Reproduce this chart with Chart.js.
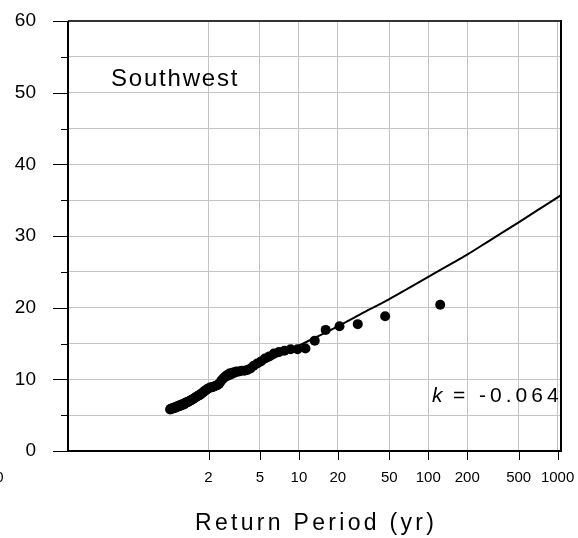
<!DOCTYPE html>
<html>
<head>
<meta charset="utf-8">
<script src="https://cdn.jsdelivr.net/npm/chart.js@4/dist/chart.umd.min.js"></script>
<style>
  html, body { margin: 0; padding: 0; background: #fff; }
</style>
</head>
<body>
<canvas id="chart" width="578" height="538"></canvas>
<script>
// ranked peaks: return period (yr) and magnitude, largest first
const returnPeriods = [123.7, 46.4, 28.5, 20.6, 16.1, 13.25, 11.24, 9.76, 8.63, 7.73,
  7.0, 6.4, 5.89, 5.46, 5.08, 4.76, 4.47, 4.22, 3.99, 3.79,
  3.6, 3.44, 3.28, 3.14, 3.02, 2.9, 2.79, 2.69, 2.59, 2.51,
  2.42, 2.35, 2.28, 2.21, 2.14, 2.08, 2.03, 1.97, 1.92, 1.87,
  1.83, 1.78, 1.74, 1.7, 1.66, 1.63, 1.59, 1.56, 1.53, 1.5,
  1.47, 1.44, 1.41, 1.38, 1.36, 1.33, 1.31, 1.29, 1.27, 1.24,
  1.22, 1.2, 1.19, 1.17, 1.15, 1.13, 1.11, 1.1, 1.08, 1.07,
  1.05, 1.04, 1.02, 1.01];
const peakValues = [20.4, 18.8, 17.7, 17.4, 16.9, 15.4, 14.3, 14.2, 14.2, 14.0,
  13.8, 13.6, 13.2, 12.9, 12.5, 12.2, 11.9, 11.5, 11.3, 11.2,
  11.2, 11.1, 11.1, 11.0, 10.9, 10.8, 10.6, 10.4, 10.1, 9.8,
  9.4, 9.2, 9.1, 9.0, 8.9, 8.9, 8.8, 8.7, 8.5, 8.4,
  8.2, 8.1, 7.9, 7.8, 7.7, 7.6, 7.5, 7.4, 7.3, 7.2,
  7.1, 7.0, 6.9, 6.8, 6.8, 6.7, 6.6, 6.5, 6.5, 6.4,
  6.4, 6.3, 6.3, 6.2, 6.2, 6.1, 6.1, 6.0, 6.0, 6.0,
  5.9, 5.9, 5.9, 5.8];

// fitted distribution curve
const fitPeriods = [1, 2, 5, 10, 20, 30, 50, 70, 100, 150, 200, 300, 500, 700, 1000, 1062];
const fitValues = [6.4, 8.7, 12.0, 14.7, 17.4, 19.1, 21.2, 22.7, 24.3, 26.1, 27.4, 29.4, 31.9, 33.6, 35.4, 35.7];

const xTicks = [2, 5, 10, 20, 50, 100, 200, 500, 1000];
const yMin = 0, yMax = 60, yStep = 5;

const fontFamily = '"Liberation Sans", Arial, sans-serif';

// frame, tick marks and the text on the plot
const decorations = {
  id: "decorations",
  afterDraw(chart) {
    const { ctx, chartArea: a, scales } = chart;
    const x = scales.x, y = scales.y;
    ctx.save();

    ctx.strokeStyle = "#000";
    ctx.lineWidth = 1;
    for (let v = yMin; v <= yMax; v += yStep) {
      const py = Math.round(y.getPixelForValue(v)) + 0.5;
      const len = v % 10 === 0 ? 15 : 7;
      ctx.beginPath();
      ctx.moveTo(a.left - len, py);
      ctx.lineTo(a.left, py);
      ctx.stroke();
    }
    xTicks.forEach((v) => {
      const px = Math.round(x.getPixelForValue(v)) + 0.5;
      ctx.beginPath();
      ctx.moveTo(px, a.bottom);
      ctx.lineTo(px, a.bottom + 9);
      ctx.stroke();
    });

    ctx.lineWidth = 2;
    ctx.strokeStyle = "#333";
    ctx.beginPath();
    ctx.moveTo(a.left, a.top);
    ctx.lineTo(a.right, a.top);
    ctx.stroke();
    ctx.strokeStyle = "#000";
    ctx.beginPath();
    ctx.moveTo(a.left, a.top);
    ctx.lineTo(a.left, a.bottom);
    ctx.lineTo(a.right, a.bottom);
    ctx.lineTo(a.right, a.top - 1);
    ctx.stroke();

    ctx.fillStyle = "#000";
    ctx.textAlign = "left";
    ctx.textBaseline = "alphabetic";

    ctx.font = "24px " + fontFamily;
    ctx.letterSpacing = "1.8px";
    ctx.fillText("Southwest", 111, 86);

    ctx.font = "italic 21px " + fontFamily;
    ctx.letterSpacing = "0px";
    ctx.fillText("k", 432, 402);
    ctx.font = "21px " + fontFamily;
    ctx.letterSpacing = "4px";
    ctx.fillText("= -0.064", 453, 402);

    ctx.font = "23px " + fontFamily;
    ctx.letterSpacing = "3.3px";
    ctx.fillText("Return Period (yr)", 195, 530);

    ctx.font = "15px " + fontFamily;
    ctx.letterSpacing = "0px";
    ctx.textAlign = "right";
    ctx.textBaseline = "middle";
    ctx.fillText("0", 3.5, 478);

    ctx.restore();
  },
};

const peakData = returnPeriods.map((t, i) => ({ x: t, y: peakValues[i] }));
const fitData = fitPeriods.map((t, i) => ({ x: t, y: fitValues[i] }));

const config = {
  type: "scatter",
  data: {
    datasets: [
      {
        label: "Fit",
        data: fitData,
        showLine: true,
        borderColor: "#000",
        borderWidth: 2,
        pointRadius: 0,
        cubicInterpolationMode: "monotone",
        order: 2,
      },
      {
        label: "Observed",
        data: peakData,
        backgroundColor: "#000",
        borderColor: "#000",
        borderWidth: 0,
        pointRadius: 5,
        order: 1,
      },
    ],
  },
  options: {
    responsive: false,
    animation: false,
    events: [],
    layout: { padding: { left: 0, top: 21, right: 17, bottom: 0 } },
    plugins: {
      legend: { display: false },
      tooltip: { enabled: false },
    },
    scales: {
      x: {
        type: "logarithmic",
        min: 0.164,
        max: 1062,
        border: { display: false },
        grid: { color: "#c4c4c4", lineWidth: 1, drawTicks: false },
        afterBuildTicks: (axis) => {
          axis.ticks = xTicks.map((v) => ({ value: v }));
        },
        afterFit: (axis) => {
          axis.height = 87;
          axis.paddingLeft = 0;
          axis.paddingRight = 0;
        },
        ticks: {
          autoSkip: false,
          maxRotation: 0,
          padding: 18,
          color: "#000",
          font: { family: fontFamily, size: 15 },
          callback: (v) => String(v),
        },
      },
      y: {
        min: yMin,
        max: yMax,
        border: { display: false },
        grid: { color: "#c4c4c4", lineWidth: 1, drawTicks: false },
        afterFit: (axis) => {
          axis.width = 68;
          axis.paddingTop = 0;
          axis.paddingBottom = 0;
        },
        ticks: {
          stepSize: yStep,
          autoSkip: false,
          padding: 32,
          color: "#000",
          font: { family: fontFamily, size: 19 },
          callback: (v) => (v % 10 === 0 ? String(v) : ""),
        },
      },
    },
  },
  plugins: [decorations],
};

const chart = new Chart(document.getElementById("chart"), config);
</script>
</body>
</html>
